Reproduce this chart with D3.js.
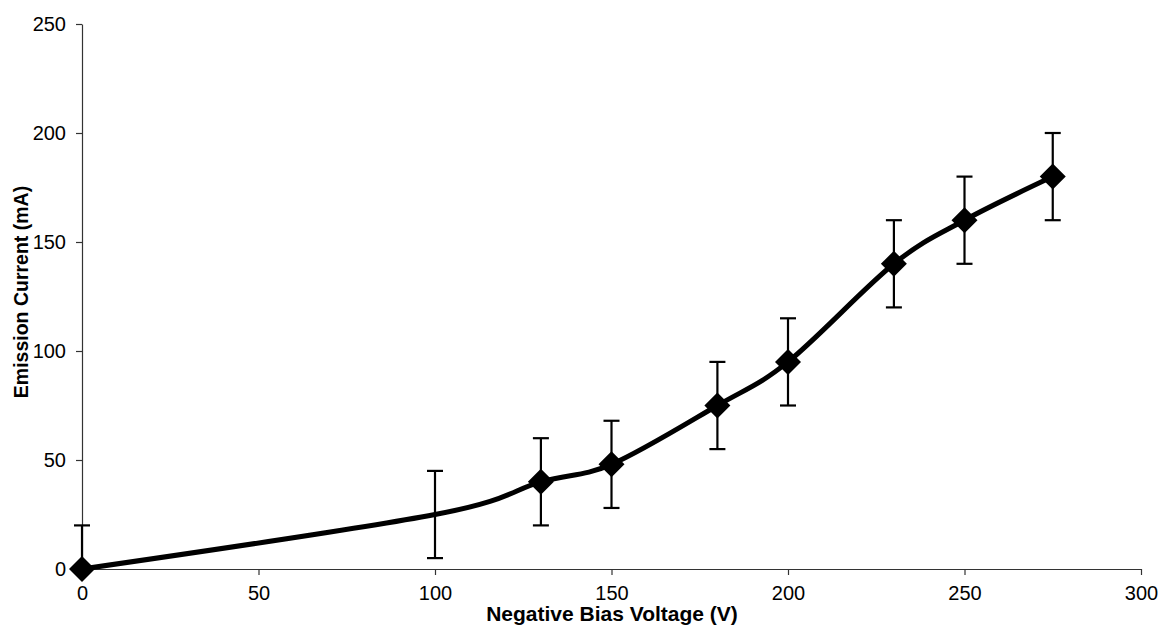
<!DOCTYPE html>
<html>
<head>
    <style>
        body { margin: 0; background: #fff; }
        .axis text { font-family: "Liberation Sans", Arial, sans-serif; font-size: 20px; fill: #000; }
        .axis path, .axis line { stroke: #333; stroke-width: 1.2px; }
        .title { font-family: "Liberation Sans", Arial, sans-serif; font-weight: bold; fill: #000; }
    </style>
    <script src="https://d3js.org/d3.v7.min.js"></script>
    <title>Emission Current vs Negative Bias Voltage</title>
</head>
<body>
    <svg width="1166" height="626"></svg>
    <script>
        // Data
        var voltage = [0, 100, 130, 150, 180, 200, 230, 250, 275];
        var current = [0, 25, 40, 48, 75, 95, 140, 160, 180];
        var errorBar = [20, 20, 20, 20, 20, 20, 20, 20, 20];
        var hasMarker = [true, false, true, true, true, true, true, true, true];
        var xTicks = [0, 50, 100, 150, 200, 250, 300];
        var yTicks = [0, 50, 100, 150, 200, 250];

        var svg = d3.select("svg"),
            plotLeft = 82, plotTop = 24, plotRight = 1141, plotBottom = 569;

        var x = d3.scaleLinear().domain([0, 300]).range([plotLeft, plotRight]),
            y = d3.scaleLinear().domain([0, 250]).range([plotBottom, plotTop]);

        var data = voltage.map(function (v, i) {
            return { x: v, y: current[i], err: errorBar[i], marker: hasMarker[i] };
        });

        // Axes
        svg.append("g")
            .attr("class", "axis")
            .attr("transform", "translate(0," + plotBottom + ")")
            .call(d3.axisBottom(x).tickValues(xTicks).tickSize(6).tickSizeOuter(0).tickPadding(11));

        svg.append("g")
            .attr("class", "axis")
            .attr("transform", "translate(" + plotLeft + ",0)")
            .call(d3.axisLeft(y).tickValues(yTicks).tickSize(6).tickSizeOuter(0).tickPadding(10));

        // Axis titles
        svg.append("text")
            .attr("class", "title")
            .attr("font-size", "21px")
            .attr("text-anchor", "middle")
            .attr("x", 612)
            .attr("y", 621)
            .text("Negative Bias Voltage (V)");

        svg.append("text")
            .attr("class", "title")
            .attr("font-size", "19.5px")
            .attr("text-anchor", "middle")
            .attr("transform", "translate(28,292) rotate(-90)")
            .text("Emission Current (mA)");

        // Error bars (clipped at zero)
        var cap = 8;
        var eb = svg.append("g").attr("stroke", "#000").attr("stroke-width", 2.2).attr("fill", "none");
        data.forEach(function (d) {
            var hi = y(d.y + d.err), lo = y(Math.max(0, d.y - d.err));
            eb.append("line").attr("x1", x(d.x)).attr("x2", x(d.x)).attr("y1", hi).attr("y2", lo);
            eb.append("line").attr("x1", x(d.x) - cap).attr("x2", x(d.x) + cap).attr("y1", hi).attr("y2", hi);
            if (d.y - d.err >= 0) {
                eb.append("line").attr("x1", x(d.x) - cap).attr("x2", x(d.x) + cap).attr("y1", lo).attr("y2", lo);
            }
        });

        // Smoothed line
        var line = d3.line()
            .x(function (d) { return x(d.x); })
            .y(function (d) { return y(d.y); })
            .curve(d3.curveCardinal.tension(0));

        svg.append("path")
            .datum(data)
            .attr("fill", "none")
            .attr("stroke", "#000")
            .attr("stroke-width", 5)
            .attr("stroke-linejoin", "round")
            .attr("d", line);

        // Diamond markers
        var r = 13;
        svg.selectAll(".marker")
            .data(data.filter(function (d) { return d.marker; }))
            .enter()
            .append("path")
            .attr("class", "marker")
            .attr("fill", "#000")
            .attr("d", function (d) {
                var cx = x(d.x), cy = y(d.y);
                return "M" + cx + "," + (cy - r) + "L" + (cx + r) + "," + cy +
                    "L" + cx + "," + (cy + r) + "L" + (cx - r) + "," + cy + "Z";
            });
    </script>
</body>
</html>
